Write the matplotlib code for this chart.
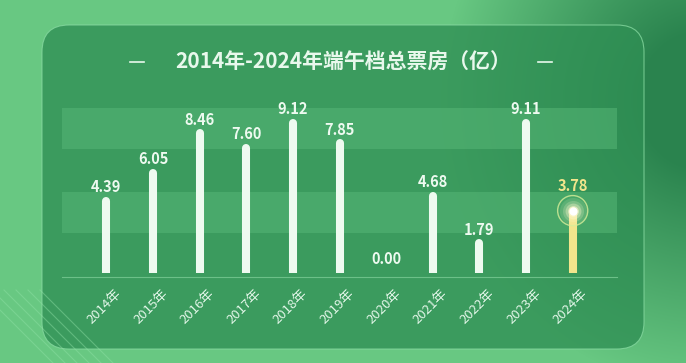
import numpy as np
import matplotlib.pyplot as plt
import matplotlib.transforms as mtransforms
from matplotlib.patches import FancyBboxPatch
from matplotlib.colors import LinearSegmentedColormap

plt.rcParams['font.family'] = ['Noto Sans CJK SC', 'DejaVu Sans']

# data
years = ['2014年', '2015年', '2016年', '2017年', '2018年', '2019年',
         '2020年', '2021年', '2022年', '2023年', '2024年']
box_office = [4.39, 6.05, 8.46, 7.60, 9.12, 7.85, 0.00, 4.68, 1.79, 9.11, 3.78]
title = '2014年-2024年端午档总票房（亿）'

W, H = 686, 363
fig = plt.figure(figsize=(W / 100, H / 100), dpi=100)

# background: light green with a dark diagonal blob on the right
bg = fig.add_axes([0, 0, 1, 1])
bg.set_xlim(0, W)
bg.set_ylim(H, 0)
bg.axis('off')
yy, xx = np.mgrid[0:H, 0:W]
d = np.hypot((xx - 700) / 200.0, (yy - 100) / 220.0)
t = np.clip(1.3 - d, 0, 1)
cmap = LinearSegmentedColormap.from_list('bg', ['#68c882', '#2a834e'])
bg.imshow(t, cmap=cmap, extent=(0, W, H, 0), aspect='auto', vmin=0, vmax=1)

# faint stripes bottom left
for k in range(6):
    bg.plot([-20 + k * 12, 60 + k * 12], [290, 370], color='#8fe0a5', lw=0.8, alpha=0.45)

# panel (semi transparent so the dark blob shows through)
panel = FancyBboxPatch((42, 25), 602, 324, boxstyle='round,pad=0,rounding_size=27',
                       facecolor='#2f8f54', edgecolor='#86d9a0', linewidth=0.8, alpha=0.78)
bg.add_patch(panel)

# title
bg.text(W / 2, 62, title, color='#e8f8ec', fontsize=15, fontweight='bold',
        ha='center', va='center')
bg.plot([130, 144], [62, 62], color='#e8f8ec', lw=1.2)
bg.plot([538, 552], [62, 62], color='#e8f8ec', lw=1.2)

# chart axes
ax = fig.add_axes([62 / W, (H - 273) / H, (617 - 62) / W, 165 / H])
ax.set_xlim(-0.95, 10.95)
ax.set_ylim(0, 10)
ax.patch.set_alpha(0)
for s in ax.spines.values():
    s.set_visible(False)
ax.tick_params(length=0)
ax.set_yticks([])

for lo, hi in [(2.4, 4.9), (7.5, 10.0)]:
    ax.axhspan(lo, hi, color='#56b676', alpha=0.55, lw=0, zorder=0)
ax.axhline(-0.25, color='#6cc088', lw=0.8, zorder=1, clip_on=False)

x = np.arange(len(years))
for i, v in enumerate(box_office):
    last = i == len(years) - 1
    col = '#f2e58c' if last else '#eefaf0'
    if v > 0:
        ax.plot([i, i], [0, v], color=col, lw=5.8, solid_capstyle='round', zorder=3)
    ax.annotate(f'{v:.2f}', (i, v), xytext=(0, 18 if last else 10),
                textcoords='offset points', ha='center', va='center',
                color=col, fontsize=10.5, fontweight='bold', zorder=6)

# glow on the last bar
gx, gy = x[-1], box_office[-1]
for s, a in [(380, 0.12), (230, 0.2), (130, 0.35), (60, 0.6)]:
    ax.scatter(gx, gy, s=s, color='#fff9d0', alpha=a, lw=0, zorder=4)
ax.scatter(gx, gy, s=470, facecolor='none', edgecolor='#d8ee9a', lw=1.0, alpha=0.8, zorder=4)
ax.scatter(gx, gy, s=35, color='white', lw=0, zorder=5)

ax.set_xticks(x)
ax.set_xticklabels(years, rotation=45, ha='right', va='top', rotation_mode='anchor',
                   color='#e2f6e8', fontsize=9.5)
ax.tick_params(axis='x', pad=10)
shift = mtransforms.ScaledTranslation(6 / 72, 0, fig.dpi_scale_trans)
for lab in ax.get_xticklabels():
    lab.set_transform(lab.get_transform() + shift)

fig.savefig('out.png', dpi=100)
